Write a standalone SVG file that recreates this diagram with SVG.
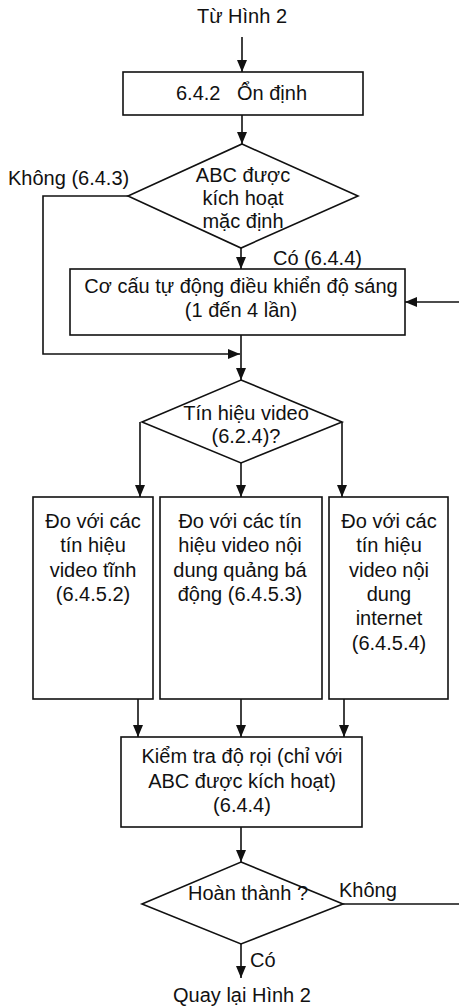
<svg xmlns="http://www.w3.org/2000/svg" width="459" height="1007" viewBox="0 0 459 1007">
<style>
text{font-family:"Liberation Sans",Arial,sans-serif;font-size:20px;fill:#111}
.c{text-anchor:middle}
.s{fill:#fff;stroke:#111;stroke-width:1.6}
.l{fill:none;stroke:#111;stroke-width:1.6}
</style>
<defs>
<marker id="a" markerUnits="userSpaceOnUse" markerWidth="12" markerHeight="10" refX="12" refY="5" orient="auto">
<path d="M0,0 L12,5 L0,10 z" fill="#111"/>
</marker>
</defs>
<g id="connectors">
<line class="l" x1="242" y1="37" x2="242" y2="72" marker-end="url(#a)"/>
<line class="l" x1="242" y1="115" x2="242" y2="144" marker-end="url(#a)"/>
<polyline class="l" points="128,196 43,196 43,354 240,354" marker-end="url(#a)"/>
<line class="l" x1="241" y1="248" x2="241" y2="269" marker-end="url(#a)"/>
<line class="l" x1="459" y1="302" x2="405" y2="302" marker-end="url(#a)"/>
<line class="l" x1="241" y1="335" x2="241" y2="380" marker-end="url(#a)"/>
<line class="l" x1="140" y1="422" x2="140" y2="497" marker-end="url(#a)"/>
<line class="l" x1="241" y1="463" x2="241" y2="497" marker-end="url(#a)"/>
<line class="l" x1="342" y1="422" x2="342" y2="497" marker-end="url(#a)"/>
<line class="l" x1="138" y1="699" x2="138" y2="737" marker-end="url(#a)"/>
<line class="l" x1="241" y1="699" x2="241" y2="737" marker-end="url(#a)"/>
<line class="l" x1="344" y1="699" x2="344" y2="737" marker-end="url(#a)"/>
<line class="l" x1="241" y1="827" x2="241" y2="862" marker-end="url(#a)"/>
<line class="l" x1="343" y1="904" x2="459" y2="904"/>
<line class="l" x1="241" y1="944" x2="241" y2="978" marker-end="url(#a)"/>
<text x="8" y="185">Không (6.4.3)</text>
<text x="273" y="265">Có (6.4.4)</text>
<text x="339" y="897">Không</text>
<text x="250" y="967">Có</text>
</g>
<g id="start"><text class="c" x="242" y="23">Từ Hình 2</text></g>
<g id="box1">
<rect class="s" x="123" y="72" width="240" height="43"/>
<text x="176" y="100">6.4.2</text><text x="237" y="100">Ổn định</text>
</g>
<g id="dec1">
<polygon class="s" points="242,144 358,196 241,248 128,196"/>
<text class="c" x="243" y="182">ABC được</text>
<text class="c" x="243" y="205">kích hoạt</text>
<text class="c" x="243" y="228">mặc định</text>
</g>
<g id="box2">
<rect class="s" x="70" y="269" width="335" height="66"/>
<text class="c" x="241" y="293">Cơ cấu tự động điều khiển độ sáng</text>
<text class="c" x="241" y="317">(1 đến 4 lần)</text>
</g>
<g id="dec2">
<polygon class="s" points="241,380 342,422 241,463 142,422"/>
<text class="c" x="246" y="420">Tín hiệu video</text>
<text class="c" x="246" y="443">(6.2.4)?</text>
</g>
<g id="boxA">
<rect class="s" x="33" y="497" width="120" height="202"/>
<text class="c" x="93" y="528">Đo với các</text>
<text class="c" x="93" y="552">tín hiệu</text>
<text class="c" x="93" y="576.5">video tĩnh</text>
<text class="c" x="93" y="601">(6.4.5.2)</text>
</g>
<g id="boxB">
<rect class="s" x="160" y="497" width="162" height="202"/>
<text class="c" x="240" y="528">Đo với các tín</text>
<text class="c" x="240" y="552">hiệu video nội</text>
<text class="c" x="240" y="576.5">dung quảng bá</text>
<text class="c" x="240" y="601">động (6.4.5.3)</text>
</g>
<g id="boxC">
<rect class="s" x="329" y="497" width="119" height="202"/>
<text class="c" x="389" y="528">Đo với các</text>
<text class="c" x="389" y="552">tín hiệu</text>
<text class="c" x="389" y="576.5">video nội</text>
<text class="c" x="389" y="601">dung</text>
<text class="c" x="389" y="625">internet</text>
<text class="c" x="389" y="649.5">(6.4.5.4)</text>
</g>
<g id="box3">
<rect class="s" x="121" y="737" width="241" height="90"/>
<text class="c" x="242" y="763">Kiểm tra độ rọi (chỉ với</text>
<text class="c" x="242" y="787.5">ABC được kích hoạt)</text>
<text class="c" x="242" y="812">(6.4.4)</text>
</g>
<g id="dec3">
<polygon class="s" points="241,862 343,904 241,944 142,904"/>
<text class="c" x="248" y="900">Hoàn thành ?</text>
</g>
<g id="end"><text class="c" x="242" y="1002">Quay lại Hình 2</text></g>
</svg>
